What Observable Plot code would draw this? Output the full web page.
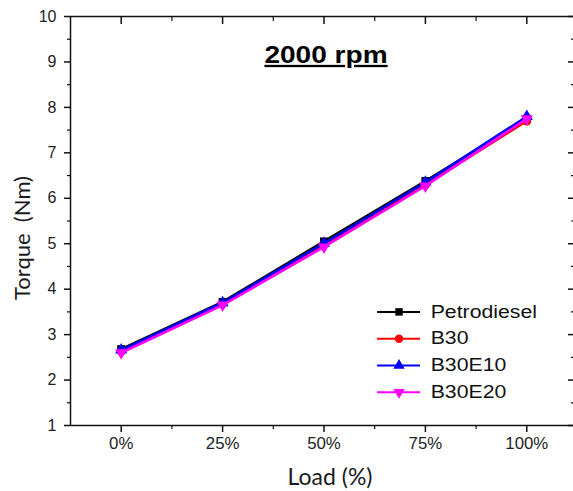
<!DOCTYPE html>
<html><head><meta charset="utf-8">
<script src="https://cdn.jsdelivr.net/npm/d3@7"></script>
<script src="https://cdn.jsdelivr.net/npm/@observablehq/plot@0.6"></script>
<style>
body{margin:0;background:#fff;}
#chart svg{display:block;}
</style>
</head><body><div id="chart"></div>
<script>
// ---- data ----
const loads = [0, 25, 50, 75, 100];
const seriesNames = ["Petrodiesel", "B30", "B30E10", "B30E20"];
const petrodiesel = [2.68, 3.72, 5.05, 6.38, 7.75];
const b30 = [2.63, 3.68, 4.98, 6.30, 7.70];
const b30e10 = [2.66, 3.70, 5.01, 6.35, 7.80];
const b30e20 = [2.60, 3.65, 4.93, 6.27, 7.75];
const seriesColors = ["#000000", "#ff0000", "#0000ff", "#ff00ff"];
const yTicks = [1, 2, 3, 4, 5, 6, 7, 8, 9, 10];
const yMinor = [1.5, 2.5, 3.5, 4.5, 5.5, 6.5, 7.5, 8.5, 9.5];
const xMinor = [12.5, 37.5, 62.5, 87.5];
const titleText = "2000 rpm";
const xLabel = "Load (%)";
const yLabel = "Torque  (Nm)";

const values = [petrodiesel, b30, b30e10, b30e20];
const rows = seriesNames.flatMap((s, i) => loads.map((l, j) => ({series: s, load: l, torque: values[i][j]})));

const sqrt3 = Math.sqrt(3);
const triangleDown = {
  draw(context, size) {
    const y = -Math.sqrt(size / (sqrt3 * 3));
    context.moveTo(0, -y * 2);
    context.lineTo(-sqrt3 * y, y);
    context.lineTo(sqrt3 * y, y);
    context.closePath();
  }
};
const symbols = [d3.symbolSquare, d3.symbolCircle, d3.symbolTriangle, triangleDown];

// legend rows (placed inside the frame, in data units)
const legendRows = seriesNames.map((s, i) => ({series: s, y: 3.5 - i * 0.59}));

const font = "'Liberation Sans', Arial, sans-serif";
const axisColor = "#111";
const labelColor = "#222";

const marks = [
  Plot.ruleX([-12.5, 112.5], {stroke: axisColor, strokeWidth: 1.5}),
  Plot.ruleY([1, 10], {stroke: axisColor, strokeWidth: 1.5}),
  Plot.axisY({ticks: yTicks, tickSize: 6, tickPadding: 8, fontSize: 16, color: labelColor, stroke: axisColor, strokeWidth: 1.5, label: null}),
  Plot.axisY({ticks: yMinor, tickSize: 3, tickFormat: () => "", stroke: axisColor, strokeWidth: 1.2, label: null}),
  Plot.axisY({anchor: "right", ticks: yTicks, tickSize: -6, tickFormat: () => "", stroke: axisColor, strokeWidth: 1.5, label: null}),
  Plot.axisY({anchor: "right", ticks: yMinor, tickSize: -3, tickFormat: () => "", stroke: axisColor, strokeWidth: 1.2, label: null}),
  Plot.axisX({ticks: loads, tickSize: 7, tickPadding: 5, tickFormat: d => d + "%", fontSize: 16, color: labelColor, stroke: axisColor, strokeWidth: 1.5, label: null}),
  Plot.axisX({ticks: xMinor, tickSize: 4, tickFormat: () => "", stroke: axisColor, strokeWidth: 1.2, label: null}),
  Plot.axisX({anchor: "top", ticks: loads, tickSize: -7, tickFormat: () => "", stroke: axisColor, strokeWidth: 1.5, label: null}),
  Plot.axisX({anchor: "top", ticks: xMinor, tickSize: -4, tickFormat: () => "", stroke: axisColor, strokeWidth: 1.2, label: null}),
];

seriesNames.forEach((s, i) => {
  const d = rows.filter(r => r.series === s);
  marks.push(Plot.line(d, {x: "load", y: "torque", stroke: "series", strokeWidth: 2.6}));
  marks.push(Plot.dot(d, {x: "load", y: "torque", fill: "series", symbol: "series", r: 4.5}));
});

marks.push(
  Plot.ruleY(legendRows, {y: "y", x1: 63.2, x2: 73.8, stroke: "series", strokeWidth: 2}),
  Plot.dot(legendRows, {x: 68.5, y: "y", fill: "series", symbol: "series", r: 4.2}),
  Plot.text(legendRows, {x: 76.3, y: "y", text: "series", textAnchor: "start", fontSize: 18, fill: "#111", className: "legend-text"}),
  Plot.text([titleText], {frameAnchor: "top", dy: 30, dx: 4, text: d => d, fontSize: 23, fontWeight: "bold", fill: "#000", className: "title-text"}),
  Plot.text([xLabel], {frameAnchor: "bottom", dy: 59, dx: 8, text: d => d, fontSize: 23, fontFamily: "Lato, 'Open Sans', sans-serif", fill: "#1a1a22", className: "axis-title"}),
  Plot.text([yLabel], {frameAnchor: "left", textAnchor: "middle", dx: -48, dy: 17, rotate: -90, text: d => d, fontSize: 22, fontFamily: "Lato, 'Open Sans', sans-serif", fill: "#1a1a22", className: "axis-title"})
);

const plot = Plot.plot({
  width: 573,
  height: 491,
  marginLeft: 70,
  marginRight: 0,
  marginTop: 16,
  marginBottom: 66,
  x: {domain: [-12.5, 112.5], range: [70, 577]},
  y: {domain: [1, 10]},
  color: {domain: seriesNames, range: seriesColors},
  symbol: {domain: seriesNames, range: symbols},
  style: {fontFamily: font, background: "#fff", overflow: "hidden"},
  marks
});
document.getElementById("chart").appendChild(plot);

function stretch(selection, k) {
  selection.each(function () {
    const L = this.getComputedTextLength();
    this.setAttribute("textLength", L * k);
    this.setAttribute("lengthAdjust", "spacingAndGlyphs");
  });
}
const svg = d3.select(plot);
stretch(svg.selectAll("g[aria-label='x-axis tick label'] text"), 1.05);
stretch(svg.selectAll("g[aria-label='y-axis tick label'] text"), 1.0);
stretch(svg.selectAll(".legend-text text"), 1.18);
const title = svg.selectAll(".title-text text");
stretch(title, 1.22);
title.style("text-decoration", "underline");
</script>
</body></html>
